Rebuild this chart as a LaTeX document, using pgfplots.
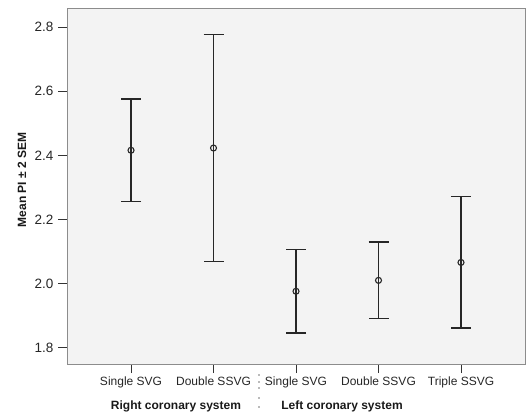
\documentclass[border=0pt]{standalone}
\usepackage{pgfplots}
\pgfplotsset{compat=1.18}
\usepackage{fontspec}
\setmainfont{Liberation Sans}
\definecolor{bgcol}{HTML}{F3F3F3}
\definecolor{framecol}{HTML}{8C8C8C}
\begin{document}
\begin{tikzpicture}[x=1bp,y=1bp]
\path[use as bounding box] (0,0) rectangle (528,415);
\begin{axis}[at={(67bp,51bp)}, anchor=south west, scale only axis,
  width=458bp, height=356bp,
  xmin=-0.776, xmax=4.776, ymin=1.749, ymax=2.860,
  axis background/.style={fill=bgcol},
  axis line style={draw=framecol, line width=0.9bp},
  xtick={0,1,2,3,4},
  xticklabels={Single SVG, Double SSVG, Single SVG, Double SSVG, Triple SSVG},
  ytick={1.8,2.0,2.2,2.4,2.6,2.8},
  /pgf/number format/assume math mode=true,
  tick align=outside, major tick length=9bp,
  tick style={black!80, line width=0.9bp},
  xtick pos=left, ytick pos=left,
  xticklabel style={font=\fontsize{12bp}{14bp}\selectfont, text=black!85},
  yticklabel style={font=\fontsize{13.5bp}{15bp}\selectfont, text=black!85, xshift=-1bp,
    /pgf/number format/.cd, fixed, fixed zerofill, precision=1},
]
\addplot+[only marks, mark=o, mark size=3bp, black!85, mark options={line width=1.1bp},
  error bars/.cd, y dir=both, y explicit,
  error bar style={line width=1.5bp, black!85},
  error mark options={rotate=90, mark size=10bp, line width=1.5bp, black!85}]
  table[x=x, y=y, y error plus=e, y error minus=e] {
x y e
0 2.416 0.160
1 2.423 0.354
2 1.976 0.131
3 2.010 0.119
4 2.066 0.205
};
\end{axis}
\node[rotate=90, font=\bfseries\fontsize{12bp}{14bp}\selectfont, text=black!90] at (22,235) {Mean PI ± 2 SEM};
\node[font=\bfseries\fontsize{12bp}{14bp}\selectfont, text=black!90] at (176,9) {Right coronary system};
\node[font=\bfseries\fontsize{12bp}{14bp}\selectfont, text=black!90] at (342,9) {Left coronary system};
\foreach \yy in {40,33,27,17,8} \fill[black!55] (259,\yy) circle (0.9bp);
\end{tikzpicture}
\end{document}
